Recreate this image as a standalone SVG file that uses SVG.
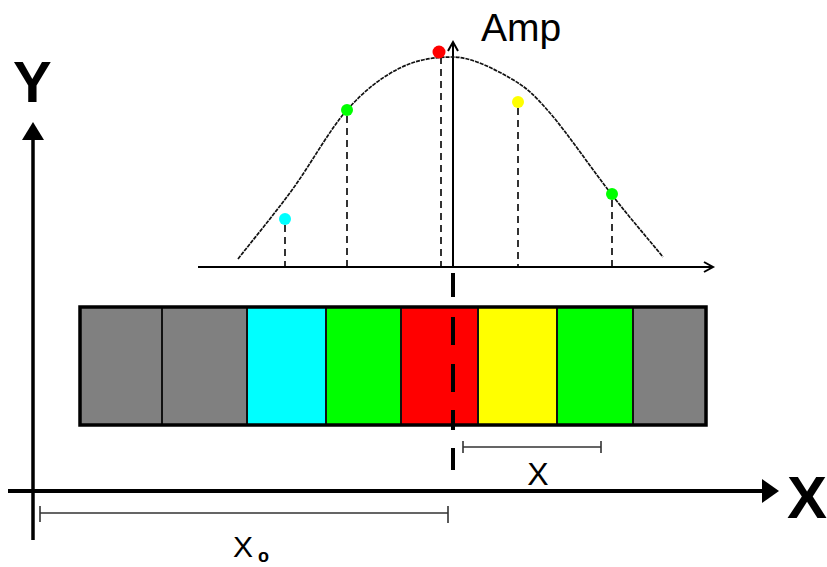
<svg xmlns="http://www.w3.org/2000/svg" width="827" height="567" viewBox="0 0 827 567">
<style>
.lbl{font-family:"Liberation Sans",Arial,sans-serif;fill:#000}
.cell{stroke:#111;stroke-width:2}
.drop{stroke:#000;stroke-width:1.6;stroke-dasharray:7 5;fill:none}
.dim{stroke:#333;stroke-width:1.6;fill:none}
</style>
<rect width="827" height="567" fill="#fff"/>
<g id="strip">
<rect class="cell" x="80" y="307" width="82" height="118" fill="#808080"/>
<rect class="cell" x="162" y="307" width="85" height="118" fill="#808080"/>
<rect class="cell" x="247" y="307" width="79" height="118" fill="#00FFFF"/>
<rect class="cell" x="326" y="307" width="75" height="118" fill="#00FF00"/>
<rect class="cell" x="401" y="307" width="77" height="118" fill="#FF0000"/>
<rect class="cell" x="478" y="307" width="79" height="118" fill="#FFFF00"/>
<rect class="cell" x="557" y="307" width="76" height="118" fill="#00FF00"/>
<rect class="cell" x="633" y="307" width="73" height="118" fill="#808080"/>
<rect x="80" y="307" width="626" height="118" fill="none" stroke="#000" stroke-width="3.5"/>
</g>
<g id="connectors">
<line x1="33" y1="540" x2="33" y2="136" stroke="#000" stroke-width="3.5"/>
<polygon points="33,122 22,140 44,140" fill="#000"/>
<line x1="8" y1="491" x2="764" y2="491" stroke="#000" stroke-width="4"/>
<polygon points="779,491 762,479 762,503" fill="#000"/>
<line x1="198" y1="267" x2="712" y2="267" stroke="#000" stroke-width="2"/>
<path d="M704,262 L713,267 L704,272" fill="none" stroke="#000" stroke-width="2"/>
<line x1="453" y1="267" x2="453" y2="43" stroke="#000" stroke-width="2"/>
<path d="M448,51 L453,42 L458,51" fill="none" stroke="#000" stroke-width="2"/>
<path d="M238,259 C256,236 273.8,214.8 292,190 C310.2,165.2 329,130.3 347,110 C365,89.7 382.3,76.8 400,68 C417.7,59.2 434.7,57 453,57 C471.3,57 493.8,68.7 510,78 C526.2,87.3 533,93.5 550,113 C567,132.5 593.2,171 612,195 C630.8,219 646,236.3 663,257" fill="none" stroke="#111" stroke-width="1.7" stroke-dasharray="4 1"/>
<line class="drop" x1="285" y1="225" x2="285" y2="267"/>
<line class="drop" x1="347" y1="116" x2="347" y2="267"/>
<line class="drop" x1="441" y1="57" x2="441" y2="267"/>
<line class="drop" x1="518" y1="108" x2="518" y2="267"/>
<line class="drop" x1="612" y1="200" x2="612" y2="267"/>
<path d="M453,273V297 M453,317V345 M453,364V392 M453,410V430 M453,448V470" stroke="#000" stroke-width="4" fill="none"/>
<path class="dim" d="M463,447H601 M463,441V453 M601,441V453"/>
<path class="dim" d="M40,513H448 M40,506V522 M448,506V523"/>
</g>
<g id="points">
<circle cx="285" cy="219" r="6" fill="#00FFFF"/>
<circle cx="347" cy="110" r="6" fill="#00FF00"/>
<circle cx="439" cy="52" r="6.5" fill="#FF0000"/>
<circle cx="518" cy="102" r="6" fill="#FFFF00"/>
<circle cx="612" cy="194" r="6" fill="#00FF00"/>
</g>
<g id="labels">
<text class="lbl" x="13" y="102" font-size="58" font-weight="bold">Y</text>
<text class="lbl" x="787" y="518" font-size="60" font-weight="bold">X</text>
<text class="lbl" x="481" y="41" font-size="39">Amp</text>
<text class="lbl" x="538" y="485" font-size="32" text-anchor="middle">X</text>
<text class="lbl" x="233" y="557" font-size="30">X<tspan x="258" y="562" font-size="18" font-weight="bold">o</tspan></text>
</g>
</svg>
